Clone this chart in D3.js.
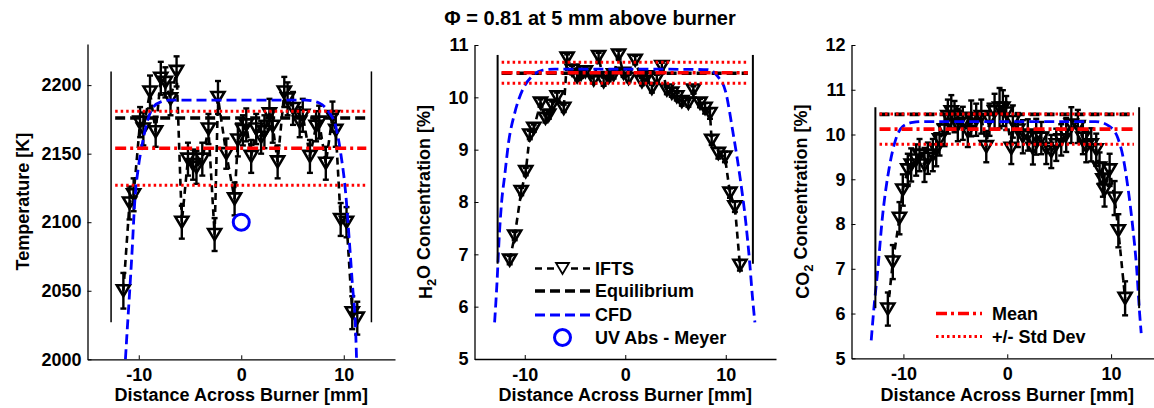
<!DOCTYPE html>
<html><head><meta charset="utf-8">
<script src="https://cdn.jsdelivr.net/npm/d3@7"></script>
<style>
body{margin:0;background:#fff;}
svg{display:block;font-family:"Liberation Sans",Arial,Helvetica,sans-serif;font-weight:bold;}
</style></head><body>
<svg id="chart" width="1154" height="408"></svg>
<script>
// ---------------- DATA ----------------
const titleText = "\u03A6 = 0.81 at 5 mm above burner";
const xLabel = "Distance Across Burner [mm]";
const xTicks = [-10, 0, 10];
const xDomain = [-15, 15];
const burnerEdges = [-12.7, 12.7];
const statSpan = [-12.3, 12.2];

// Panel 1: Temperature
const tempDomain = [2000, 2230];
const tempTicks = [2000, 2050, 2100, 2150, 2200];
const tempX = [-11.5, -10.9, -10.5, -9.87, -9.55, -8.9, -8.35, -7.85, -7.4, -6.9, -6.31, -5.8, -5.2, -4.7, -4.37, -3.8, -3.2, -2.6, -2.27, -1.46, -0.65, -0.33, 0.16, 0.49, 0.97, 1.46, 1.94, 2.26, 2.75, 3.07, 3.55, 4.2, 4.52, 5.05, 5.7, 6.0, 6.7, 7.3, 7.6, 8.25, 8.9, 9.22, 9.7, 10.27, 10.83, 11.32];
const tempY = [2050, 2114, 2120, 2173, 2168, 2195, 2166, 2205, 2202, 2190, 2210, 2100, 2146, 2142, 2140, 2146, 2168, 2091, 2191, 2150, 2117, 2160, 2167, 2171, 2148, 2168, 2162, 2166, 2179, 2170, 2144, 2195, 2190, 2183, 2173, 2178, 2148, 2170, 2173, 2143, 2177, 2167, 2102, 2100, 2034, 2030];
const tempErr = [13, 12, 12, 11, 12, 12, 11, 12, 11, 12, 11, 12, 12, 11, 12, 12, 11, 12, 12, 11, 12, 12, 11, 12, 12, 11, 12, 12, 11, 12, 12, 11, 12, 12, 11, 12, 12, 11, 12, 12, 11, 12, 12, 11, 12, 12];
const tempCfdX = [-11.3, -11.17, -10.9, -10.68, -10.36, -10.04, -9.71, -9.22, -8.58, -7.77, -7.0, 0, 6.3, 7.6, 8.57, 9.22, 9.71, 10.19, 10.52, 10.84, 11.17, 11.25];
const tempCfdY = [2000, 2016, 2048, 2075, 2118, 2140, 2155, 2172, 2184, 2188, 2189, 2189, 2189, 2187, 2180, 2170, 2150, 2121, 2089, 2055, 2019, 2000];
const tempEquil = 2176;
const tempMean = 2154;
const tempStd = 27;
const tempEdgeY = [2027, 2210];
const uvX = [0];
const uvY = [2100];

// Panel 2: H2O
const h2oDomain = [5, 11];
const h2oTicks = [5, 6, 7, 8, 9, 10, 11];
const h2oX = [-11.5, -11.0, -10.35, -9.9, -9.5, -9.1, -8.43, -7.94, -7.61, -7.27, -6.78, -6.12, -5.78, -5.29, -4.79, -4.4, -3.97, -3.14, -2.65, -2.15, -1.65, -1.16, -0.66, -0.17, 0.33, 0.99, 1.66, 2.15, 2.65, 3.14, 3.64, 4.14, 4.63, 5.13, 5.63, 6.28, 6.78, 7.44, 7.94, 8.43, 8.6, 9.26, 9.92, 10.42, 10.91, 11.41];
const h2oY = [6.89, 7.35, 8.2, 8.58, 9.28, 9.41, 9.89, 9.6, 9.66, 9.85, 10.01, 9.79, 10.75, 10.52, 10.39, 10.44, 10.49, 10.33, 10.78, 10.3, 10.38, 10.43, 10.81, 10.46, 10.36, 10.71, 10.3, 10.39, 10.17, 10.36, 10.59, 10.14, 10.08, 10.01, 9.92, 9.89, 10.14, 9.89, 9.79, 9.69, 9.18, 8.93, 8.86, 8.17, 7.91, 6.79];
const h2oErr = [0.08, 0.08, 0.07, 0.07, 0.08, 0.07, 0.07, 0.08, 0.07, 0.07, 0.08, 0.07, 0.07, 0.08, 0.07, 0.07, 0.08, 0.07, 0.07, 0.08, 0.07, 0.07, 0.08, 0.07, 0.07, 0.08, 0.07, 0.07, 0.08, 0.07, 0.07, 0.08, 0.07, 0.07, 0.08, 0.07, 0.07, 0.08, 0.1, 0.1, 0.09, 0.1, 0.1, 0.09, 0.1, 0.1];
const h2oCfdX = [-13.0, -12.75, -12.55, -12.3, -12.0, -11.6, -11.0, -10.2, -9.3, -8.2, -7.0, 0, 8.2, 9.2, 10.0, 10.7, 11.4, 12.0, 12.4, 12.65, 12.9];
const h2oCfdY = [5.7, 6.5, 7.3, 8.0, 8.5, 9.15, 9.7, 10.15, 10.4, 10.52, 10.54, 10.54, 10.53, 10.4, 10.1, 9.35, 8.5, 7.6, 6.8, 6.2, 5.7];
const h2oEquil = 10.46;
const h2oMean = 10.47;
const h2oStd = 0.2;
const h2oEdgeY = [6.82, 10.81];

// Panel 3: CO2
const co2Domain = [5, 12];
const co2Ticks = [5, 6, 7, 8, 9, 10, 11, 12];
const co2X = [-11.5, -11.02, -10.38, -10.06, -9.58, -9.25, -8.77, -8.45, -7.97, -7.65, -7.17, -6.84, -6.52, -6.04, -5.72, -5.39, -5.08, -4.76, -4.28, -3.8, -3.47, -2.99, -2.5, -2.02, -1.71, -1.22, -0.74, -0.42, -0.1, 0.39, 0.54, 1.02, 1.5, 1.98, 2.47, 2.79, 3.28, 3.76, 4.24, 4.72, 5.2, 5.68, 6.17, 6.8, 7.28, 7.61, 8.09, 8.57, 8.89, 9.21, 9.37, 9.86, 10.34, 10.7, 11.35];
const co2Y = [6.1, 7.15, 8.13, 8.76, 9.21, 9.32, 9.43, 9.54, 9.32, 9.47, 9.54, 9.66, 9.88, 10.1, 10.4, 10.51, 10.4, 10.21, 10.25, 10.07, 10.36, 10.33, 10.4, 9.73, 10.33, 10.51, 10.59, 10.59, 10.48, 9.69, 10.29, 10.1, 9.95, 9.99, 9.69, 9.95, 9.92, 9.69, 9.62, 9.77, 9.88, 9.99, 10.21, 10.18, 9.92, 9.73, 9.77, 9.66, 9.25, 8.99, 8.76, 9.21, 8.58, 7.85, 6.34];
const co2Err = [0.37, 0.38, 0.36, 0.35, 0.36, 0.37, 0.35, 0.36, 0.38, 0.35, 0.36, 0.37, 0.35, 0.36, 0.38, 0.37, 0.35, 0.36, 0.37, 0.35, 0.4, 0.36, 0.38, 0.35, 0.36, 0.4, 0.45, 0.4, 0.38, 0.35, 0.36, 0.38, 0.37, 0.35, 0.36, 0.4, 0.36, 0.35, 0.37, 0.36, 0.35, 0.38, 0.4, 0.37, 0.36, 0.35, 0.37, 0.36, 0.35, 0.38, 0.37, 0.36, 0.38, 0.37, 0.38];
const co2CfdX = [-13.1, -12.85, -12.5, -12.0, -11.35, -10.7, -10.05, -9.1, -8.0, 0, 8.5, 9.85, 10.65, 11.15, 11.6, 12.1, 12.45, 12.75, 12.9];
const co2CfdY = [5.4, 6.1, 6.9, 8.2, 9.28, 9.92, 10.18, 10.27, 10.29, 10.29, 10.29, 10.18, 9.92, 9.5, 8.85, 7.9, 7.05, 6.0, 5.56];
const co2Equil = 10.45;
const co2Mean = 10.12;
const co2Std = 0.34;
const co2EdgeY = [6.12, 10.61];

// ---------------- LAYOUT / STYLE ----------------
const FONT = 18;
const svg = d3.select("#chart");

svg.append("text")
  .attr("x", 590).attr("y", 25)
  .attr("text-anchor", "middle")
  .attr("font-size", 20)
  .text(titleText);

const panels = [
  { box: {l: 87.5, r: 395, t: 44, b: 359.3}, domain: tempDomain, ticks: tempTicks,
    x: tempX, y: tempY, err: tempErr, cfdX: tempCfdX, cfdY: tempCfdY,
    equil: tempEquil, mean: tempMean, std: tempStd, edgeY: tempEdgeY,
    uv: true, ylab: [{t: "Temperature [K]"}], ylabX: 29, edgeW: 1.5 },
  { box: {l: 474.5, r: 776, t: 45, b: 359}, domain: h2oDomain, ticks: h2oTicks,
    x: h2oX, y: h2oY, err: h2oErr, cfdX: h2oCfdX, cfdY: h2oCfdY,
    equil: h2oEquil, mean: h2oMean, std: h2oStd, edgeY: h2oEdgeY,
    uv: false, ylab: [{t: "H"}, {t: "2", sub: true}, {t: "O Concentration [%]"}], ylabX: 432, edgeW: 2,
    legend: "main" },
  { box: {l: 851.5, r: 1163, t: 45, b: 358.3}, domain: co2Domain, ticks: co2Ticks,
    x: co2X, y: co2Y, err: co2Err, cfdX: co2CfdX, cfdY: co2CfdY,
    equil: co2Equil, mean: co2Mean, std: co2Std, edgeY: co2EdgeY,
    uv: false, ylab: [{t: "CO"}, {t: "2", sub: true}, {t: " Concentration [%]"}], ylabX: 809, edgeW: 2,
    legend: "stats" }
];

const triPath = "M-6.5,-5.5L6.5,-5.5L0,5.5Z";

const styles = {
  ifts: {stroke: "#000", w: 2.6, dash: "7,5"},
  equil: {stroke: "#000", w: 3.6, dash: "10,5"},
  cfd: {stroke: "#0000ff", w: 2.8, dash: "10,5"},
  mean: {stroke: "#ff0000", w: 3.6, dash: "11,4,3,4"},
  std: {stroke: "#ff0000", w: 3, dash: "2.5,3"}
};

function styled(sel, s) {
  return sel.attr("fill", "none").attr("stroke", s.stroke)
    .attr("stroke-width", s.w).attr("stroke-dasharray", s.dash);
}

panels.forEach((p, pi) => {
  const xs = d3.scaleLinear().domain(xDomain).range([p.box.l, p.box.r]);
  const ys = d3.scaleLinear().domain(p.domain).range([p.box.b, p.box.t]);
  const g = svg.append("g");

  const clipId = "clip" + pi;
  svg.append("clipPath").attr("id", clipId).append("rect")
    .attr("x", p.box.l).attr("y", p.box.t)
    .attr("width", p.box.r - p.box.l).attr("height", p.box.b - p.box.t);

  // axes
  const xa = g.append("g").attr("transform", `translate(0,${p.box.b})`)
    .call(d3.axisBottom(xs).tickValues(xTicks).tickSizeInner(-4).tickSizeOuter(0).tickPadding(9).tickFormat(d3.format("d")));
  const ya = g.append("g").attr("transform", `translate(${p.box.l},0)`)
    .call(d3.axisLeft(ys).tickValues(p.ticks).tickSizeInner(-4).tickSizeOuter(0).tickPadding(6).tickFormat(d3.format("d")));
  [xa, ya].forEach(a => {
    a.attr("font-family", null).attr("font-size", FONT);
    a.selectAll("path.domain").attr("stroke", "#000").attr("stroke-width", 1.3);
    a.selectAll(".tick line").attr("stroke", "#000").attr("stroke-width", 1);
    a.selectAll(".tick text").attr("fill", "#000").text(d => d < 0 ? "-" + Math.abs(d) : String(d));
  });

  // axis labels
  g.append("text")
    .attr("x", (p.box.l + p.box.r) / 2)
    .attr("y", 401)
    .attr("text-anchor", "middle").attr("font-size", FONT)
    .text(xLabel);
  const yl = g.append("text")
    .attr("transform", `translate(${p.ylabX},${(p.box.t + p.box.b) / 2}) rotate(-90)`)
    .attr("text-anchor", "middle").attr("font-size", FONT);
  p.ylab.forEach((part, i) => {
    const ts = yl.append("tspan").text(part.t);
    if (part.sub) ts.attr("dy", "0.32em").attr("font-size", FONT * 0.72);
    else if (i > 0 && p.ylab[i - 1].sub) ts.attr("dy", "-0.32em").attr("font-size", FONT);
  });

  // IFTS connecting dashed line
  const pts = p.x.map((xv, i) => [xv, p.y[i]]);
  const line = d3.line().x(d => xs(d[0])).y(d => ys(d[1]));
  styled(g.append("path").attr("d", line(pts)), styles.ifts);

  // error bars
  const eb = g.append("g").attr("stroke", "#000").attr("stroke-width", 2.4).attr("fill", "none");
  pts.forEach((d, i) => {
    const cx = xs(d[0]);
    const y0 = ys(d[1] - p.err[i]), y1 = ys(d[1] + p.err[i]);
    eb.append("line").attr("x1", cx).attr("x2", cx).attr("y1", y0).attr("y2", y1);
    eb.append("line").attr("x1", cx - 3).attr("x2", cx + 3).attr("y1", y0).attr("y2", y0);
    eb.append("line").attr("x1", cx - 3).attr("x2", cx + 3).attr("y1", y1).attr("y2", y1);
  });
  // triangle markers
  g.append("g").selectAll("path").data(pts).join("path")
    .attr("d", triPath)
    .attr("transform", d => `translate(${xs(d[0])},${ys(d[1])})`)
    .attr("fill", "none").attr("stroke", "#000").attr("stroke-width", 2.6);

  // equilibrium
  styled(g.append("line").attr("x1", xs(statSpan[0])).attr("x2", xs(statSpan[1]))
    .attr("y1", ys(p.equil)).attr("y2", ys(p.equil)), styles.equil);

  // CFD
  const cfdPts = p.cfdX.map((xv, i) => [xv, p.cfdY[i]]);
  styled(g.append("path").attr("clip-path", `url(#${clipId})`)
    .attr("d", d3.line().curve(d3.curveMonotoneX).x(d => xs(d[0])).y(d => ys(d[1]))(cfdPts)), styles.cfd);

  // UV Abs
  if (p.uv) {
    g.selectAll("circle.uv").data(uvX.map((v, i) => [v, uvY[i]])).join("circle")
      .attr("class", "uv")
      .attr("cx", d => xs(d[0])).attr("cy", d => ys(d[1])).attr("r", 8)
      .attr("fill", "none").attr("stroke", "#0000ff").attr("stroke-width", 3);
  }

  // mean & std
  styled(g.append("line").attr("x1", xs(statSpan[0])).attr("x2", xs(statSpan[1]))
    .attr("y1", ys(p.mean)).attr("y2", ys(p.mean)), styles.mean);
  [p.mean + p.std, p.mean - p.std].forEach(v => {
    styled(g.append("line").attr("x1", xs(statSpan[0])).attr("x2", xs(statSpan[1]))
      .attr("y1", ys(v)).attr("y2", ys(v)), styles.std);
  });

  // burner edges
  burnerEdges.forEach(e => {
    g.append("line").attr("x1", xs(e)).attr("x2", xs(e))
      .attr("y1", ys(p.edgeY[0])).attr("y2", ys(p.edgeY[1]))
      .attr("stroke", "#000").attr("stroke-width", p.edgeW);
  });

  // legends
  if (p.legend === "main") {
    const lg = g.append("g");
    const x0 = 535, x1 = 590, tx = 595;
    const rows = [
      {y: 268.5, label: "IFTS", type: "ifts"},
      {y: 291, label: "Equilibrium", type: "equil"},
      {y: 315, label: "CFD", type: "cfd"},
      {y: 337.5, label: "UV Abs - Meyer", type: "uv"}
    ];
    rows.forEach(r => {
      if (r.type === "uv") {
        lg.append("circle").attr("cx", (x0 + x1) / 2).attr("cy", r.y).attr("r", 8)
          .attr("fill", "none").attr("stroke", "#0000ff").attr("stroke-width", 3);
      } else {
        styled(lg.append("line").attr("x1", x0).attr("x2", x1).attr("y1", r.y).attr("y2", r.y), styles[r.type]);
        if (r.type === "ifts") {
          lg.append("path").attr("d", triPath).attr("transform", `translate(${(x0 + x1) / 2},${r.y})`)
            .attr("fill", "#fff").attr("stroke", "#000").attr("stroke-width", 1.8);
        }
      }
      lg.append("text").attr("x", tx).attr("y", r.y).attr("dy", "0.35em")
        .attr("font-size", FONT).text(r.label);
    });
  }
  if (p.legend === "stats") {
    const lg = g.append("g");
    const x0 = 936, x1 = 982, tx = 992;
    const rows = [
      {y: 313.5, label: "Mean", type: "mean"},
      {y: 336.5, label: "+/- Std Dev", type: "std"}
    ];
    rows.forEach(r => {
      styled(lg.append("line").attr("x1", x0).attr("x2", x1).attr("y1", r.y).attr("y2", r.y), styles[r.type]);
      lg.append("text").attr("x", tx).attr("y", r.y).attr("dy", "0.35em")
        .attr("font-size", FONT).text(r.label);
    });
  }
});
</script>
</body></html>
